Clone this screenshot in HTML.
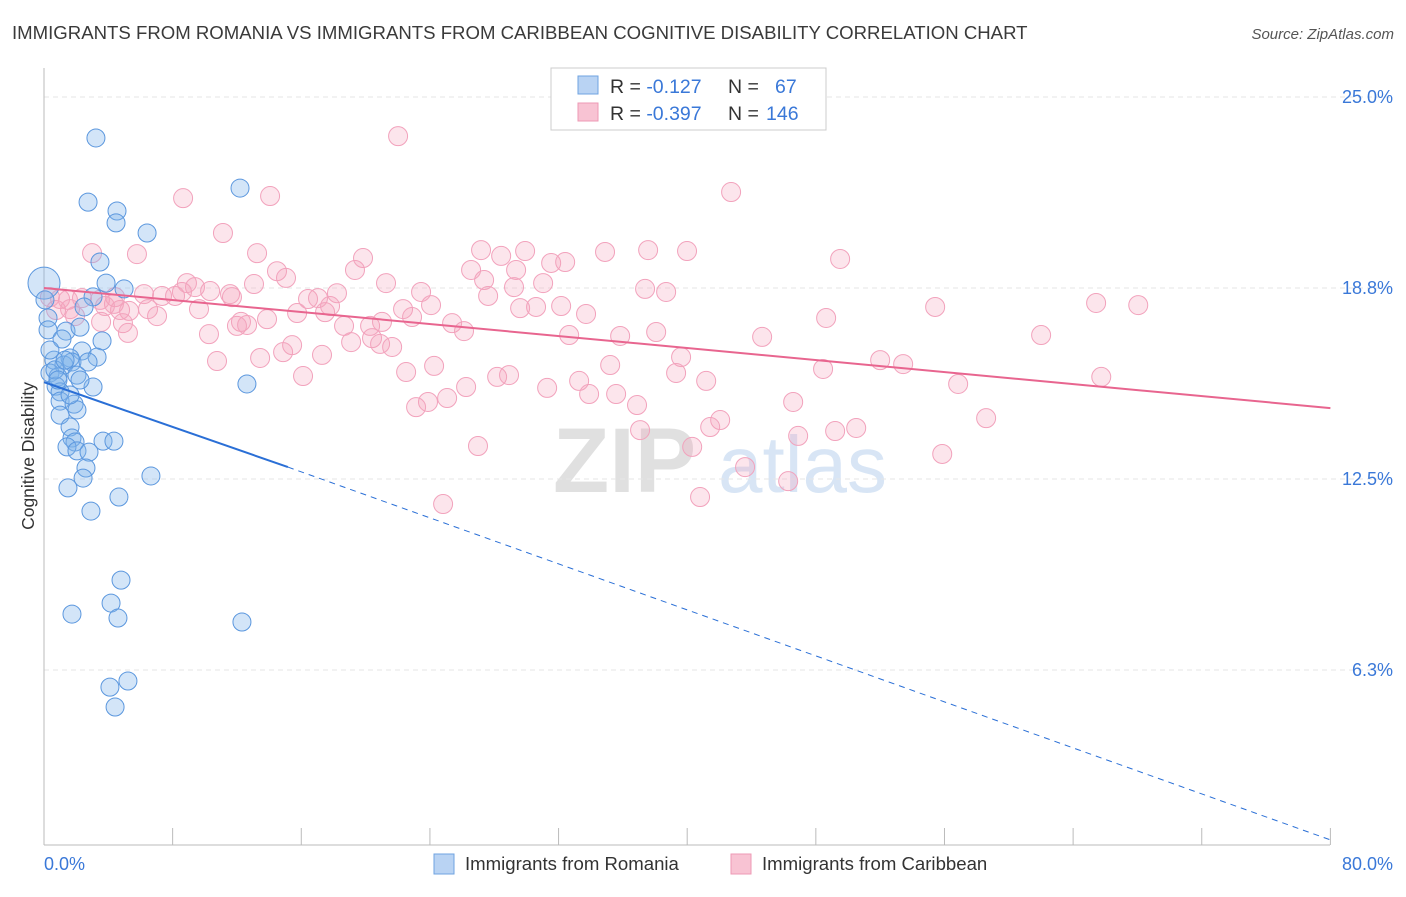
<!DOCTYPE html>
<html><head><meta charset="utf-8"><style>
body{margin:0;background:#fff;font-family:"Liberation Sans",sans-serif;}
svg text{font-family:"Liberation Sans",sans-serif;}
</style></head><body>
<svg id="chart" width="1406" height="892" viewBox="0 0 1406 892" xmlns="http://www.w3.org/2000/svg">
<text x="12" y="39" font-size="18.6" fill="#3a3a3a">IMMIGRANTS FROM ROMANIA VS IMMIGRANTS FROM CARIBBEAN COGNITIVE DISABILITY CORRELATION CHART</text>
<text x="1394" y="39" font-size="15" fill="#555" font-style="italic" text-anchor="end">Source: ZipAtlas.com</text>
<g><text x="553" y="492" font-size="92" font-family="Liberation Serif" fill="#e0e0e0" font-weight="bold">ZIP</text><text x="718" y="492" font-size="80" fill="#c8dbf1" opacity="0.7">atlas</text></g>
<g id="grid"></g>
<g id="axes"></g>
<g id="marks"></g>
<g id="lines"></g>
<text transform="translate(34,456) rotate(-90)" font-size="17.5" fill="#333" text-anchor="middle">Cognitive Disability</text>
<g>
<rect x="551" y="68" width="275" height="62" fill="#fff" stroke="#ccc"/>
<rect x="578" y="76" width="20" height="18" fill="#b9d3f3" stroke="#6fa3e0"/>
<rect x="578" y="103" width="20" height="18" fill="#f8c3d3" stroke="#ee9ab5"/>
<text x="610" y="93" font-size="19.5" fill="#333">R = <tspan fill="#3a78d8">-0.127</tspan><tspan x="728">N = </tspan><tspan x="775" fill="#3a78d8">67</tspan></text>
<text x="610" y="120" font-size="19.5" fill="#333">R = <tspan fill="#3a78d8">-0.397</tspan><tspan x="728">N = </tspan><tspan x="766" fill="#3a78d8">146</tspan></text>
</g>
<g>
<rect x="434" y="854" width="20" height="20" fill="#b9d3f3" stroke="#6fa3e0"/>
<text x="465" y="870" font-size="18.6" fill="#333">Immigrants from Romania</text>
<rect x="731" y="854" width="20" height="20" fill="#f8c3d3" stroke="#ee9ab5"/>
<text x="762" y="870" font-size="18.6" fill="#333">Immigrants from Caribbean</text>
</g>
</svg>
<script>
const blueX=[3.23,2.74,4.54,4.48,6.41,12.19,3.48,3.86,4.98,0.0,3.05,2.49,0.25,0.25,1.37,2.24,1.12,3.61,2.36,3.30,0.62,1.62,1.24,1.74,0.37,0.87,2.05,0.75,1.00,3.05,12.62,1.00,1.87,2.05,1.00,1.62,1.74,1.93,3.67,4.35,1.43,2.05,2.80,2.61,2.43,6.65,1.49,4.66,2.92,4.79,1.74,4.17,4.60,12.31,4.10,5.22,4.42,0.68,0.37,2.24,1.31,0.87,2.74,1.62,0.06];
const blueY=[23.66,21.56,21.27,20.88,20.55,22.02,19.60,18.91,18.72,18.91,18.46,18.13,17.77,17.38,17.34,17.47,17.08,17.02,16.69,16.49,16.39,16.46,16.23,16.33,15.97,15.84,15.90,15.54,15.35,15.51,15.61,15.05,14.95,14.76,14.59,14.20,13.84,13.71,13.74,13.74,13.55,13.42,13.38,12.86,12.53,12.60,12.21,11.91,11.45,9.19,8.08,8.44,7.95,7.82,5.69,5.89,5.04,16.07,16.72,15.74,16.39,15.74,16.33,15.25,18.36];
const pinkX=[22.02,42.73,8.65,14.06,11.13,5.78,2.99,13.25,19.84,27.18,28.43,29.92,34.89,37.57,39.99,49.51,31.54,32.41,19.34,26.56,29.36,27.37,31.04,27.62,29.23,23.45,21.27,14.49,15.05,8.89,9.39,10.33,8.58,6.22,7.34,8.15,11.57,13.06,11.69,16.42,17.04,18.22,0.37,1.00,1.49,2.36,3.48,4.35,4.73,6.47,4.42,1.62,1.93,0.75,5.29,3.79,7.03,9.64,15.74,17.48,17.79,22.33,24.07,29.61,30.60,32.16,33.71,37.38,38.69,55.42,65.43,68.05,48.64,12.25,13.87,18.66,20.28,21.02,22.89,25.38,26.12,32.66,35.83,38.07,44.66,62.01,3.55,4.91,5.22,10.26,12.00,12.63,20.40,20.90,21.65,19.10,15.43,17.29,14.87,13.44,10.76,39.62,52.00,53.43,22.52,24.26,28.18,28.92,16.11,35.21,31.29,33.28,33.90,41.18,39.31,48.45,56.85,65.75,26.25,35.58,25.07,23.88,23.14,36.88,46.59,42.05,41.43,58.59,37.07,49.20,50.51,46.90,40.31,26.99,43.60,55.86,46.28,40.80,24.82];
const pinkY=[23.72,21.89,21.69,21.76,20.55,19.86,19.89,19.89,19.73,19.99,19.80,19.96,19.93,19.99,19.96,19.70,19.57,19.60,19.34,19.34,19.34,19.01,18.91,18.49,18.78,18.62,18.91,19.30,19.08,18.91,18.78,18.65,18.62,18.55,18.49,18.49,18.55,18.88,18.45,18.39,18.42,18.58,18.45,18.39,18.36,18.42,18.36,18.23,18.03,18.06,18.45,18.06,17.83,18.03,18.00,18.16,17.83,18.06,17.93,17.96,18.16,18.06,18.19,18.09,18.13,18.16,17.90,18.72,18.62,18.13,18.26,18.19,17.77,17.64,17.73,17.51,17.51,17.64,17.80,17.60,17.34,17.21,17.18,17.31,17.15,17.21,17.64,17.60,17.28,17.24,17.51,17.54,17.11,16.92,16.82,16.98,16.88,16.56,16.65,16.46,16.36,16.49,16.39,16.26,16.00,16.20,15.84,15.90,15.87,16.23,15.48,15.71,15.28,15.71,15.97,16.10,15.61,15.84,15.51,15.28,15.15,15.02,14.85,14.92,15.02,14.43,14.20,14.49,14.10,14.07,14.17,13.91,13.55,13.58,12.89,13.32,12.43,11.91,11.68];
const yTicks=[25.0,18.8,12.5,6.3];
const yTickLabels=["25.0%","18.8%","12.5%","6.3%"];
const blueTrend=[[0,15.67],[15.17,12.89],[80,0.69]];
const pinkTrend=[[0,18.75],[80,14.82]];
const NS="http://www.w3.org/2000/svg";
const xs=v=>44+v*16.08, ys=v=>861-v*30.56;
function mk(tag,attrs,parent){const e=document.createElementNS(NS,tag);for(const k in attrs)e.setAttribute(k,attrs[k]);parent.appendChild(e);return e;}
const grid=document.getElementById('grid'),axes=document.getElementById('axes'),marks=document.getElementById('marks'),lines=document.getElementById('lines');
yTicks.forEach((t,i)=>{const y=ys(t===18.8?18.75:t===6.3?6.25:t);
const g=mk('line',{x1:44,x2:1394,y1:y,y2:y,stroke:'#e6e6e6','stroke-dasharray':'5,4'},grid);


const tx=mk('text',{x:1393,y:y+6,'font-size':18,fill:'#3a78d8','text-anchor':'end'},axes);tx.textContent=yTickLabels[i];

});
mk('line',{x1:44,x2:44,y1:68,y2:845,stroke:'#bbb'},axes);
mk('line',{x1:44,x2:1330,y1:845,y2:845,stroke:'#bbb'},axes);
for(let i=0;i<=10;i++){const x=xs(i*8);const t=mk('line',{x1:x,x2:x,y1:828,y2:845,stroke:'#bbb'},axes);

}
const l0=mk('text',{x:44,y:870,'font-size':18,fill:'#3a78d8'},axes);l0.textContent='0.0%';


const l1=mk('text',{x:1393,y:870,'font-size':18,fill:'#3a78d8','text-anchor':'end'},axes);l1.textContent='80.0%';


pinkX.forEach((v,i)=>{const c=mk('circle',{cx:xs(v),cy:ys(pinkY[i]),r:9.5,fill:'rgba(244,160,188,0.28)',stroke:'#f2a2bc','stroke-width':1},marks);

});
blueX.forEach((v,i)=>{const c=mk('circle',{cx:xs(v),cy:ys(blueY[i]),r:(v===0?16:9),fill:'rgba(130,180,235,0.35)',stroke:'#5b97de','stroke-width':1},marks);

});
const b1=mk('line',{x1:xs(blueTrend[0][0]),y1:ys(blueTrend[0][1]),x2:xs(blueTrend[1][0]),y2:ys(blueTrend[1][1]),stroke:'#2a6fd6','stroke-width':2},lines);


const b2=mk('line',{x1:xs(blueTrend[1][0]),y1:ys(blueTrend[1][1]),x2:xs(blueTrend[2][0]),y2:ys(blueTrend[2][1]),stroke:'#2a6fd6','stroke-width':1,'stroke-dasharray':'6,5'},lines);


const p1=mk('line',{x1:xs(pinkTrend[0][0]),y1:ys(pinkTrend[0][1]),x2:xs(pinkTrend[1][0]),y2:ys(pinkTrend[1][1]),stroke:'#e8658f','stroke-width':2},lines);


</script>
</body></html>
